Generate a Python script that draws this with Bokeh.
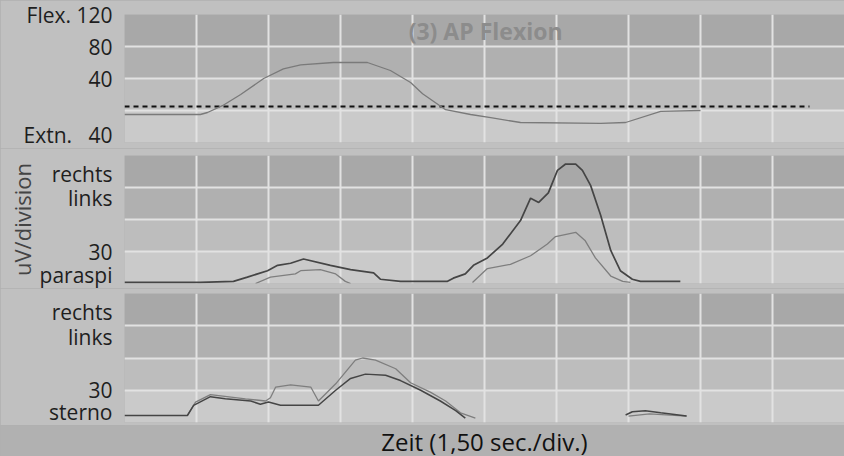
from bokeh.plotting import figure
from bokeh.layouts import column
from bokeh.models import FixedTicker, BoxAnnotation, Label
from bokeh.embed import file_html
from bokeh.resources import INLINE

FONT = "Open Sans"

# time axis in seconds (1.50 s per division, 10 divisions)
x_ticks = [i * 1.5 for i in range(11)]

# panel 1: joint angle (degrees, + = flexion, - = extension)
angle_t = [0.0, 1.58, 1.73, 2.04, 2.42, 2.9, 3.31, 3.67, 4.35, 5.06, 5.54, 5.96, 6.21,
           6.69, 7.21, 7.63, 8.25, 9.92, 10.44, 11.17, 12.0]
angle_deg = [-5, -5, -2.5, 6, 20, 40, 52, 57, 60, 60, 50, 35, 21,
             1, -5, -9, -15, -16, -15, -1, 0]
ref_t = [0.0, 14.27]
ref_deg = [5, 5]

# panel 2: paraspinal EMG (uV)
para_r_t = [0.0, 1.58, 2.27, 2.56, 2.98, 3.19, 3.46, 3.73, 4.29, 4.71, 5.19, 5.33, 5.75,
            6.73, 6.85, 7.1, 7.27, 7.56, 7.88, 8.25, 8.46, 8.63, 8.83, 9.02, 9.19, 9.4,
            9.54, 9.71, 9.92, 10.13, 10.33, 10.58, 10.75, 11.58]
para_r_v = [1, 1, 2, 6, 12, 17, 19, 23, 17, 13, 10, 4, 2,
            2, 5, 9, 17, 24, 37, 59, 80, 76, 85, 106, 112, 112,
            106, 92, 64, 31, 12, 4, 2, 2]
para_l1_t = [2.73, 3.04, 3.56, 3.67, 4.08, 4.4, 4.6, 4.71]
para_l1_v = [0, 6, 9, 12, 13, 9, 2, 0]
para_l2_t = [7.25, 7.56, 8.04, 8.46, 8.81, 8.98, 9.4, 9.6, 9.81, 10.13, 10.38, 10.54]
para_l2_v = [1, 14, 18, 26, 37, 44, 48, 40, 24, 7, 2, 1]

# panel 3: sternocleidomastoid EMG (uV)
sterno_r_t = [0.0, 1.31, 1.44, 1.79, 2.1, 2.63, 2.83, 3.0, 3.25, 4.04, 4.4, 4.71, 5.02,
              5.44, 5.75, 6.17, 6.58, 6.9, 7.1]
sterno_r_v = [6.5, 6.5, 16, 24, 22, 20, 17, 19, 16, 16, 30, 41, 45,
              44, 39, 30, 20, 11, 4]
sterno_l_t = [1.31, 1.48, 1.79, 2.52, 2.94, 3.04, 3.15, 3.46, 3.88, 4.04, 4.4, 4.81, 4.96,
              5.23, 5.65, 5.96, 6.38, 6.69, 7.0, 7.31]
sterno_l_v = [6.5, 19, 26, 22, 20, 23, 33, 35, 33, 20, 36, 58, 60,
              58, 50, 37, 28, 20, 9, 4]
sterno_r2_t = [10.44, 10.58, 10.85, 11.17, 11.71]
sterno_r2_v = [7, 10, 11, 9, 6]
sterno_l2_t = [10.5, 10.94, 11.71]
sterno_l2_v = [6, 8, 6]

# axis labels
angle_ticks = [120, 80, 40, -40]
angle_labels = ["Flex. 120", "80", "40", "Extn.\u00a0\u00a0 40"]
angle_grid = [-40, 0, 40, 80, 120]
emg_ticks = [103, 80, 30, 0]
para_labels = ["rechts", "links", "30", "paraspi"]
sterno_labels = ["rechts", "links", "30", "sterno"]
emg_grid = [0, 30, 60, 90, 120]
x_title = "Zeit (1,50 sec./div.)"
panel_title = "(3) AP Flexion"

BORDER = "#c0c0c0"
STRIP = "#b1b1b1"
BANDS = ["#cacaca", "#bdbdbd", "#b0b0b0", "#a8a8a8"]
DARK = "#454545"
LIGHT = "#7e7e7e"
W = 844
LEFT = 124


def make_fig(h, yr, top, bottom, ticks, labels, grid_ticks):
    p = figure(width=W, height=h, x_range=(0, 15), y_range=yr,
               output_backend="svg", toolbar_location=None,
               min_border_left=LEFT, min_border_right=0,
               min_border_top=top, min_border_bottom=bottom)
    p.background_fill_color = "#bcbcbc"
    p.border_fill_color = BORDER
    p.outline_line_color = None
    p.xaxis.visible = False
    p.yaxis.ticker = FixedTicker(ticks=ticks)
    p.yaxis.major_label_overrides = dict(zip(ticks, labels))
    p.yaxis.axis_line_color = None
    p.yaxis.major_tick_line_color = None
    p.yaxis.minor_tick_line_color = None
    p.yaxis.major_label_standoff = 6
    p.yaxis.major_label_text_font = FONT
    p.yaxis.major_label_text_font_size = "21px"
    p.yaxis.major_label_text_color = "#1e1e1e"
    p.xgrid.ticker = FixedTicker(ticks=x_ticks)
    p.ygrid.ticker = FixedTicker(ticks=grid_ticks)
    for g in (p.xgrid, p.ygrid):
        g.grid_line_color = "#e2e2e2"
        g.grid_line_width = 2
    for i in range(len(grid_ticks) - 1):
        p.add_layout(BoxAnnotation(bottom=grid_ticks[i], top=grid_ticks[i + 1],
                                   fill_color=BANDS[i], fill_alpha=1.0,
                                   line_color=None, level="image"))
    return p


p1 = make_fig(148, (-40, 120), 14, 6, angle_ticks, angle_labels, angle_grid)
p1.line(ref_t, ref_deg, line_color="#111111", line_width=1.8, line_dash="5 4")
p1.line(angle_t, angle_deg, line_color="#7a7a7a", line_width=1.3)
p1.add_layout(Label(x=5.92, y=99, text=panel_title, text_font=FONT,
                    text_font_size="23px", text_font_style="bold",
                    text_color="#8c8c8c", text_baseline="middle"))

p2 = make_fig(140, (0, 120), 7, 5, emg_ticks, para_labels, emg_grid)
p2.yaxis.axis_label = "uV/division"
p2.yaxis.axis_label_text_font = FONT
p2.yaxis.axis_label_text_font_style = "normal"
p2.yaxis.axis_label_text_font_size = "22px"
p2.yaxis.axis_label_text_color = "#444444"
p2.yaxis.axis_label_standoff = 0
p2.line(para_l1_t, para_l1_v, line_color=LIGHT, line_width=1.3)
p2.line(para_l2_t, para_l2_v, line_color=LIGHT, line_width=1.3)
p2.line(para_r_t, para_r_v, line_color=DARK, line_width=1.7)

p3 = make_fig(137, (0, 120), 5, 3, emg_ticks, sterno_labels, emg_grid)
p3.line(sterno_l_t, sterno_l_v, line_color=LIGHT, line_width=1.3)
p3.line(sterno_l2_t, sterno_l2_v, line_color=LIGHT, line_width=1.3)
p3.line(sterno_r_t, sterno_r_v, line_color=DARK, line_width=1.5)
p3.line(sterno_r2_t, sterno_r2_v, line_color=DARK, line_width=1.5)

# bottom strip with the time-axis title
p4 = figure(width=W, height=31, x_range=(0, 15), y_range=(0, 1),
            output_backend="svg", toolbar_location=None,
            min_border_left=LEFT, min_border_right=0, min_border_top=0, min_border_bottom=0)
p4.axis.visible = False
p4.grid.visible = False
p4.outline_line_color = None
p4.background_fill_color = STRIP
p4.border_fill_color = STRIP
p4.add_layout(Label(x=7.5, y=0.5, text=x_title, text_font=FONT,
                    text_font_size="24px", text_align="center",
                    text_baseline="middle", text_color="#111111"))

layout = column(p1, p2, p3, p4, spacing=0, styles={"background-color": STRIP})
open("out.html", "w").write(file_html(layout, INLINE))
